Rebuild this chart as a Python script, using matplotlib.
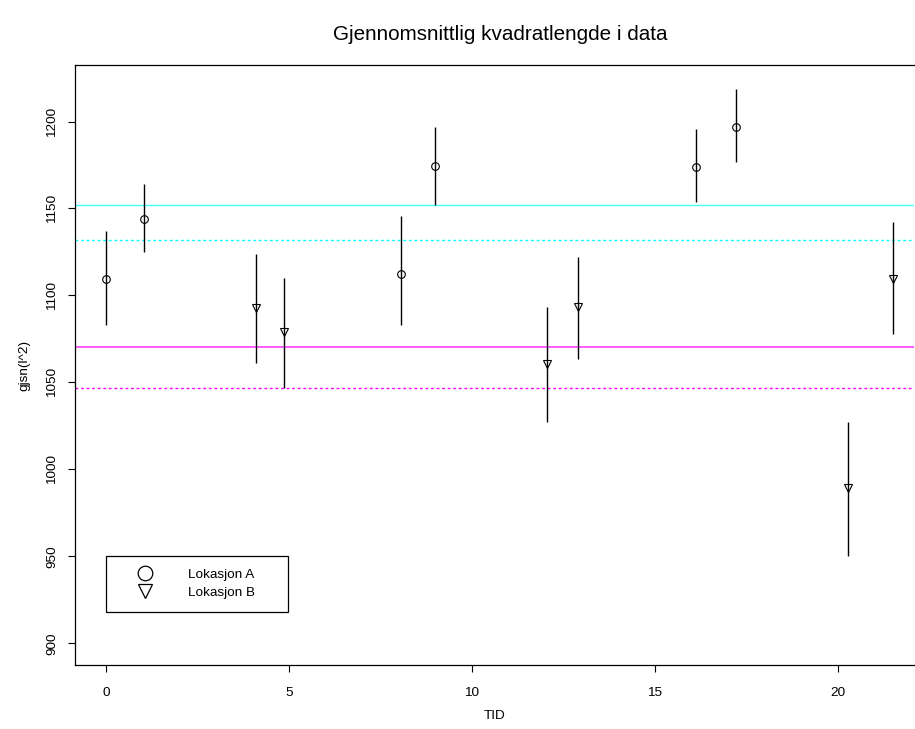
import matplotlib
matplotlib.use("Agg")
import matplotlib.pyplot as plt

plt.rcParams['font.family'] = ['Liberation Sans', 'DejaVu Sans']

# Lokasjon A (circles)
tid_a = [0.0, 1.03, 8.06, 8.98, 16.12, 17.21]
mean_a = [1109.2, 1144.2, 1112.6, 1174.4, 1174.0, 1196.8]
low_a = [1083.0, 1125.1, 1083.0, 1152.2, 1153.8, 1176.7]
high_a = [1136.9, 1164.1, 1145.9, 1196.8, 1195.8, 1218.6]

# Lokasjon B (triangles)
tid_b = [4.11, 4.87, 12.06, 12.91, 20.29, 21.51]
mean_b = [1092.8, 1078.8, 1060.4, 1093.2, 989.1, 1109.2]
low_b = [1061.4, 1047.0, 1027.5, 1063.3, 950.4, 1078.0]
high_b = [1124.1, 1110.2, 1093.3, 1122.2, 1027.5, 1142.0]

# reference lines
cyan_solid = 1152.0
cyan_dotted = 1132.0
magenta_solid = 1070.3
magenta_dotted = 1047.0

fig = plt.figure(figsize=(9.15, 7.29), dpi=100)
ax = fig.add_axes([0.0816, 0.0878, 0.9173, 0.823])

ax.axhline(cyan_solid, color='#00ffff', lw=1, alpha=0.75)
ax.axhline(cyan_dotted, color='#00ffff', lw=1, ls=(0, (2, 2)))
ax.axhline(magenta_solid, color='#ff00ff', lw=1.2, alpha=0.75)
ax.axhline(magenta_dotted, color='#ff00ff', lw=1, ls=(0, (2, 2)))

ax.vlines(tid_a, low_a, high_a, color='black', lw=1)
ax.vlines(tid_b, low_b, high_b, color='black', lw=1)
ax.plot(tid_a, mean_a, 'o', ms=5.5, mfc='none', mec='black', mew=0.8, ls='none')
ax.plot(tid_b, mean_b, 'v', ms=5.5, mfc='none', mec='black', mew=0.8, ls='none')

ax.set_xlim(-0.855, 22.08)
ax.set_ylim(887.5, 1232.5)
ax.set_xticks([0, 5, 10, 15, 20])
ax.set_yticks([900, 950, 1000, 1050, 1100, 1150, 1200])
ax.tick_params(labelsize=9.7, length=5, width=0.8)
ax.tick_params(axis='x', pad=11)
ax.tick_params(axis='y', pad=7)
for lab in ax.get_yticklabels():
    lab.set_rotation(90)
    lab.set_va('center')
ax.spines['right'].set_visible(False)
for s in ['left', 'top', 'bottom']:
    ax.spines[s].set_linewidth(0.9)

ax.set_xlabel('TID', fontsize=9.7, labelpad=8)
ax.set_ylabel('gjsn(l^2)', fontsize=9.7, labelpad=11)
fig.suptitle('Gjennomsnittlig kvadratlengde i data', fontsize=14.9,
             x=0.5464, y=0.953, va='center')

h1, = ax.plot([], [], 'o', ms=10.5, mfc='none', mec='black', mew=0.9)
h2, = ax.plot([], [], 'v', ms=10.5, mfc='none', mec='black', mew=0.9)
leg = ax.legend([h1, h2], ['Lokasjon A', 'Lokasjon B'], loc='lower left',
                bbox_to_anchor=(0.0369, 0.0888, 0.2168, 0.09), mode='expand',
                fontsize=9.7, frameon=True, fancybox=False, edgecolor='black',
                borderpad=0.93, handlelength=4.0, handletextpad=1.2,
                labelspacing=0.45, borderaxespad=0, framealpha=1)
leg.get_frame().set_linewidth(0.9)

fig.savefig('out.png', dpi=100)
